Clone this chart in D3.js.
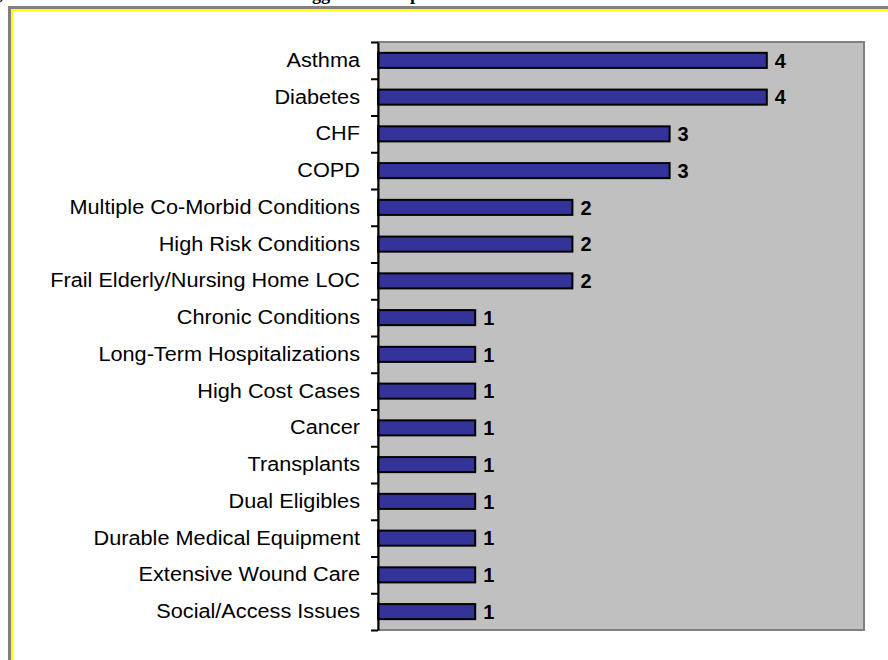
<!DOCTYPE html>
<html>
<head>
<meta charset="utf-8">
<script src="https://cdn.jsdelivr.net/npm/d3@7"></script>
<style>
  html, body { margin: 0; padding: 0; background: #fff; }
  svg { display: block; }
</style>
</head>
<body>
<svg id="chart" width="888" height="660"></svg>
<script>
// Conditions that triggered participation, and how many programs cite each
const categories = [
  "Asthma", "Diabetes", "CHF", "COPD",
  "Multiple Co-Morbid Conditions", "High Risk Conditions",
  "Frail Elderly/Nursing Home LOC", "Chronic Conditions",
  "Long-Term Hospitalizations", "High Cost Cases", "Cancer",
  "Transplants", "Dual Eligibles", "Durable Medical Equipment",
  "Extensive Wound Care", "Social/Access Issues"
];
const counts = [4, 4, 3, 3, 2, 2, 2, 1, 1, 1, 1, 1, 1, 1, 1, 1];
const xDomain = [0, 5];
const titleText = "Figure 5, Chronic Conditions and Risks That Triggered Group Enrollment";

const svg = d3.select("#chart");

// Title line, mostly above the top edge of the page
const title = svg.append("text")
  .attr("font-family", "'Liberation Serif', 'Times New Roman', serif")
  .attr("font-weight", "bold")
  .attr("font-size", 21)
  .attr("y", -0.5)
  .text(titleText);
{
  const node = title.node();
  const ggAt = titleText.indexOf("gg");
  const commaAt = titleText.indexOf(",");
  const pre = node.getSubStringLength(0, ggAt);
  const toComma = node.getSubStringLength(0, commaAt + 1);
  const k = 309 / (pre - toComma);
  title.attr("font-size", 21 * k);
  const pre2 = node.getSubStringLength(0, ggAt);
  title.attr("x", 312 - pre2);
}

// Outer frame: grey rule with a yellow inner rule
svg.append("rect")
  .attr("x", 9.5).attr("y", 7.5).attr("width", 900).attr("height", 700)
  .attr("fill", "none").attr("stroke", "#808080").attr("stroke-width", 3);
svg.append("rect")
  .attr("x", 12).attr("y", 10).attr("width", 900).attr("height", 700)
  .attr("fill", "none").attr("stroke", "#ffff00").attr("stroke-width", 2);

// Plot area
const plot = { left: 378, right: 864, top: 42, bottom: 630 };

const x = d3.scaleLinear().domain(xDomain).range([plot.left, plot.right]);
const y = d3.scaleBand()
  .domain(categories)
  .range([plot.top, plot.bottom])
  .paddingInner(0.59)
  .paddingOuter(0.295);

svg.append("rect")
  .attr("x", plot.left).attr("y", plot.top)
  .attr("width", plot.right - plot.left).attr("height", plot.bottom - plot.top)
  .attr("fill", "#c0c0c0")
  .attr("stroke", "#808080").attr("stroke-width", 2);

// Bars
svg.append("g").selectAll("rect")
  .data(categories)
  .join("rect")
  .attr("x", x(0))
  .attr("y", d => y(d))
  .attr("width", (d, i) => x(counts[i]) - x(0))
  .attr("height", y.bandwidth())
  .attr("fill", "#333399")
  .attr("stroke", "#000")
  .attr("stroke-width", 2);

// Value labels
svg.append("g").selectAll("text")
  .data(categories)
  .join("text")
  .attr("x", (d, i) => x(counts[i]) + 8)
  .attr("y", d => y(d) + y.bandwidth() / 2)
  .attr("dy", "0.36em")
  .attr("font-family", "'Liberation Sans', Arial, sans-serif")
  .attr("font-weight", "bold")
  .attr("font-size", 20)
  .attr("fill", "#000")
  .text((d, i) => counts[i]);

// Category axis: labels centred on each bar
const yAxis = svg.append("g")
  .attr("transform", `translate(${plot.left},0)`)
  .call(d3.axisLeft(y).tickSize(0).tickPadding(18));
yAxis.select(".domain").remove();
yAxis.selectAll("text")
  .attr("font-family", "'Liberation Sans', Arial, sans-serif")
  .attr("font-size", 20)
  .attr("fill", "#000")
  .attr("transform", "scale(1.085,1)")
  .attr("x", -18 / 1.085);

// Axis line with tick marks between categories
const bounds = d3.scaleLinear().domain([0, categories.length]).range([plot.top, plot.bottom]);
const tickAxis = svg.append("g")
  .attr("transform", `translate(${plot.left},0)`)
  .call(d3.axisLeft(bounds)
    .tickValues(d3.range(categories.length + 1))
    .tickSizeInner(7).tickSizeOuter(0)
    .tickFormat(""));
tickAxis.select(".domain").attr("stroke", "#000").attr("stroke-width", 2);
tickAxis.selectAll(".tick line").attr("stroke", "#000").attr("stroke-width", 2);
</script>
</body>
</html>
